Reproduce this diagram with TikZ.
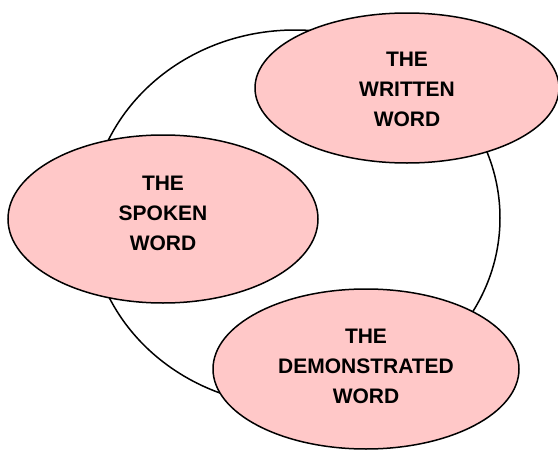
\documentclass[tikz,border=0pt]{standalone}
\usepackage{fontspec}
\setmainfont{Liberation Sans}
\usetikzlibrary{shapes.geometric}
\definecolor{bubble}{HTML}{FFC8C8}
\tikzset{
  bubble/.style={ellipse, draw=black, line width=1.5pt, fill=bubble, inner sep=0pt},
  lbl/.style={align=center, font=\fontsize{21}{30}\selectfont\bfseries, inner sep=0pt},
  ring/.style={draw=black, line width=1.5pt}
}
\begin{document}
\begin{tikzpicture}[x=1pt,y=-1pt]
\useasboundingbox (0,0) rectangle (558,450);
\node[ring, ellipse, minimum width=410pt, minimum height=376pt, inner sep=0pt] (ring) at (295,218) {};
\node[bubble, minimum width=304pt, minimum height=150pt] (written) at (407,88) {};
\node[bubble, minimum width=310pt, minimum height=168pt] (spoken) at (163,219) {};
\node[bubble, minimum width=306pt, minimum height=160pt] (demo) at (366,369) {};
\node[lbl] (twritten) at (407,89) {THE\\WRITTEN\\WORD};
\node[lbl] (tspoken) at (163,213) {THE\\SPOKEN\\WORD};
\node[lbl] (tdemo) at (366,366) {THE\\DEMONSTRATED\\WORD};
\end{tikzpicture}
\end{document}
